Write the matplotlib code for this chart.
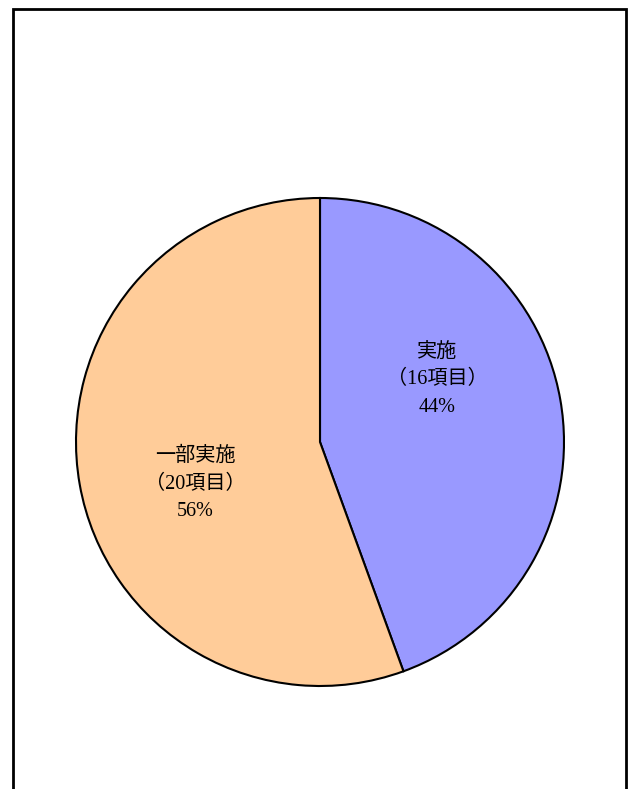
import matplotlib
matplotlib.use("Agg")
import matplotlib.pyplot as plt
from matplotlib.patches import Rectangle

plt.rcParams['font.family'] = ['Liberation Serif', 'Noto Sans CJK JP']

names = ['実施', '一部実施']
counts = [16, 20]
colors = ['#9999FF', '#FFCC99']
# label anchor points (in units of pie radius)
label_pos = [(0.48, 0.255), (-0.512, -0.172)]

total = sum(counts)

fig = plt.figure(figsize=(6.32, 7.89), dpi=100)
ax = fig.add_axes([76 / 632, 103 / 789, 488 / 632, 488 / 789])
ax.pie(counts, colors=colors, startangle=90, counterclock=False, radius=1,
       wedgeprops=dict(edgecolor='black', linewidth=1.5))
ax.set_xlim(-1.0, 1.0)
ax.set_ylim(-1.0, 1.0)
ax.set_aspect('auto')
ax.axis('off')

for name, n, (x, y) in zip(names, counts, label_pos):
    pct = round(100 * n / total)
    ax.text(x, y, f'{name}\n（{n}項目）\n{pct}%', ha='center', va='center',
            fontsize=14.5, linespacing=1.58)

fig.patches.append(Rectangle((13 / 632, -0.05), (626 - 13) / 632, 1.05 - 9 / 789,
                             transform=fig.transFigure, fill=False,
                             edgecolor='black', linewidth=2))

fig.savefig('out.png', dpi=100)
